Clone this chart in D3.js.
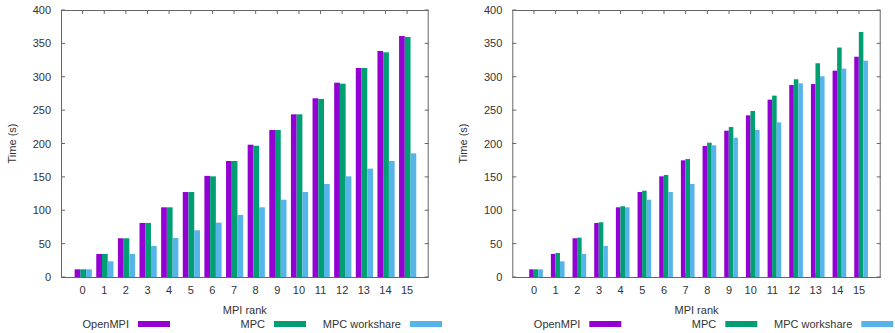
<!DOCTYPE html>
<html>
<head>
<meta charset="utf-8">
<script src="https://cdn.jsdelivr.net/npm/d3@7"></script>
<style>
  html, body { margin: 0; padding: 0; background: #fff; }
  svg { display: block; }
  text { font-family: "Liberation Sans", Arial, sans-serif; font-size: 11px; fill: #333; }
</style>
</head>
<body>
<svg id="chart" width="895" height="333"></svg>
<script>
// MPI ranks along the x axis
const ranks = d3.range(0, 16);
const yTicks = [0, 50, 100, 150, 200, 250, 300, 350, 400];
const seriesNames = ["OpenMPI", "MPC", "MPC workshare"];
const seriesColors = ["#9400d3", "#009e73", "#56b4e9"];

// Left panel: time per rank (s)
const leftOpenMPI   = [11.5, 34.5, 58, 81, 104.4, 127.3, 151.5, 173.8, 198.2, 220.2, 243.7, 267.7, 291.1, 313.1, 338.6, 361];
const leftMPC       = [11.5, 34.5, 58, 81, 104.4, 127.3, 150.8, 173.8, 196.7, 220.2, 243.7, 266.7, 289.6, 313.1, 336.6, 359.6];
const leftWorkshare = [11.5, 23.5, 34.5, 46.4, 58.4, 70, 81.4, 92.9, 104.4, 115.8, 127.3, 139.3, 150.8, 162.3, 173.8, 185.3];

// Right panel: time per rank (s)
const rightOpenMPI   = [11.5, 34.5, 58, 81, 104.4, 127.3, 150.8, 174.8, 196.3, 219.2, 242.2, 265.7, 287.6, 289.1, 309.1, 330];
const rightMPC       = [11.5, 36, 59, 82, 106, 129.3, 152.8, 176.8, 201.2, 224.7, 248.7, 271.7, 296.2, 320.2, 343.8, 367];
const rightWorkshare = [11.5, 23.5, 34.5, 46.4, 104.4, 115.8, 127.3, 139.3, 197.3, 208.7, 220.2, 231.7, 290.1, 300.7, 312.1, 324];

const panels = [
  { left: 61, right: 428.7, series: [leftOpenMPI, leftMPC, leftWorkshare], barW: 0.265, start: -0.37 },
  { left: 512.3, right: 880.7, series: [rightOpenMPI, rightMPC, rightWorkshare], barW: 0.21, start: -0.22 }
];

const plotTop = 10, plotBottom = 277;
const svg = d3.select("#chart");
const axisColor = "#666";

panels.forEach(p => {
  const g = svg.append("g");
  const x = d3.scaleLinear().domain([-1, 16]).range([p.left, p.right]);
  const y = d3.scaleLinear().domain([0, 400]).range([plotBottom, plotTop]);

  // y ticks (inward on both sides) and labels
  yTicks.forEach(t => {
    g.append("line").attr("x1", p.left).attr("x2", p.left + 4)
      .attr("y1", y(t)).attr("y2", y(t)).attr("stroke", axisColor);
    g.append("line").attr("x1", p.right).attr("x2", p.right - 4)
      .attr("y1", y(t)).attr("y2", y(t)).attr("stroke", axisColor);
    g.append("text").attr("x", p.left - 10).attr("y", y(t))
      .attr("text-anchor", "end").attr("dominant-baseline", "central").text(t);
  });

  // x ticks (inward on top and bottom) and labels
  ranks.forEach(r => {
    g.append("line").attr("x1", x(r)).attr("x2", x(r))
      .attr("y1", plotTop).attr("y2", plotTop + 4).attr("stroke", axisColor);
    g.append("line").attr("x1", x(r)).attr("x2", x(r))
      .attr("y1", plotBottom).attr("y2", plotBottom - 4).attr("stroke", axisColor);
    g.append("text").attr("x", x(r)).attr("y", 290)
      .attr("text-anchor", "middle").attr("dominant-baseline", "central").text(r);
  });

  // clustered bars
  p.series.forEach((vals, si) => {
    g.append("g").selectAll("rect").data(vals).join("rect")
      .attr("x", (d, i) => x(ranks[i] + p.start + si * p.barW))
      .attr("width", x(p.barW) - x(0))
      .attr("y", d => y(d))
      .attr("height", d => y(0) - y(d))
      .attr("fill", seriesColors[si]);
  });

  // plot border
  g.append("rect").attr("x", p.left + 0.5).attr("y", plotTop + 0.5)
    .attr("width", p.right - p.left - 1).attr("height", plotBottom - plotTop)
    .attr("fill", "none").attr("stroke", axisColor);

  // axis titles
  g.append("text").attr("transform", `translate(${p.left - 49.5},${(plotTop + plotBottom) / 2}) rotate(-90)`)
    .attr("text-anchor", "middle").attr("dominant-baseline", "central").text("Time (s)");
  g.append("text").attr("x", (p.left + p.right) / 2).attr("y", 310)
    .attr("text-anchor", "middle").attr("dominant-baseline", "central").text("MPI rank");

  // legend row
  seriesNames.forEach((name, si) => {
    const swRight = p.left + 109 + si * 136;
    g.append("rect").attr("x", swRight - 32).attr("y", 321).attr("width", 32).attr("height", 6)
      .attr("fill", seriesColors[si]);
    g.append("text").attr("x", swRight - 32 - 9).attr("y", 323.5)
      .attr("text-anchor", "end").attr("dominant-baseline", "central").text(name);
  });
});
</script>
</body>
</html>
